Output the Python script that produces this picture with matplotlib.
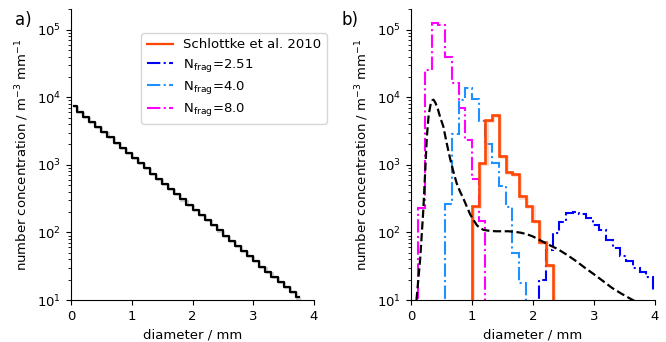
import numpy as np
import matplotlib
matplotlib.use("Agg")
import matplotlib.pyplot as plt
import matplotlib.patheffects as pe
from matplotlib.lines import Line2D

# ---------------- data ----------------
# panel a: initial drop size distribution (bin centres, mm) and concentration
diam_a = [0.05, 0.15, 0.25, 0.35, 0.45, 0.55, 0.65, 0.75, 0.85, 0.95,
          1.05, 1.15, 1.25, 1.35, 1.45, 1.55, 1.65, 1.75, 1.85, 1.95,
          2.05, 2.15, 2.25, 2.35, 2.45, 2.55, 2.65, 2.75, 2.85, 2.95,
          3.05, 3.15, 3.25, 3.35, 3.45, 3.55, 3.65, 3.75]
conc_a = [7324, 6142, 5151, 4320, 3622, 3038, 2548, 2136, 1792, 1502,
          1260, 1057, 886, 743, 623, 523, 438, 368, 308, 258,
          217, 182, 152, 128, 107, 89.9, 75.4, 63.2, 53.0, 44.5,
          37.3, 31.3, 26.2, 22.0, 18.4, 15.5, 13.0, 10.9]

# panel b: bin edges (mm)
edges_b = [0.01, 0.12, 0.23, 0.34, 0.45, 0.56, 0.67, 0.78, 0.89, 1.00,
           1.11, 1.22, 1.33, 1.44, 1.55, 1.66, 1.77, 1.88, 1.99, 2.10,
           2.21, 2.32, 2.43, 2.54, 2.65, 2.76, 2.87, 2.98, 3.09, 3.20,
           3.31, 3.42, 3.53, 3.64, 3.75, 3.86, 3.97, 4.08]

schlottke = [0, 0, 0, 0, 0, 0, 0, 0, 0,
             247, 1067, 4560, 5540, 1350, 790, 730, 340, 247, 150, 73, 33,
             0, 0, 0, 0, 0, 0, 0, 0, 0, 0, 0, 0, 0, 0, 0, 0]
nfrag_251 = [0, 0, 0, 0, 0, 0, 0, 0, 0, 0, 0, 0, 0, 0, 0, 0, 0, 0, 0,
             20, 55, 97, 144, 195, 200, 190, 166, 128, 108, 77, 58, 45,
             37.7, 30, 26, 22, 14]
nfrag_40 = [0, 0, 0, 0, 0, 260, 2830, 9000, 13500, 9500, 4400, 2000, 1050,
            480, 239, 50, 18, 0, 0, 0, 0, 0, 0, 0, 0, 0, 0, 0, 0, 0, 0, 0,
            0, 0, 0, 0, 0]
nfrag_80 = [0, 226, 25600, 126000, 118000, 39300, 16200, 6930, 2360, 627,
            147, 0, 0, 0, 0, 0, 0, 0, 0, 0, 0, 0, 0, 0, 0, 0, 0, 0, 0, 0,
            0, 0, 0, 0, 0, 0, 0]

# panel b: smooth model distribution (dashed)
diam_model = [0.09, 0.15, 0.20, 0.23, 0.26, 0.29, 0.32, 0.35, 0.37, 0.40,
              0.44, 0.48, 0.53, 0.585, 0.64, 0.70, 0.75, 0.80, 0.86, 0.92,
              0.97, 1.03, 1.08, 1.13, 1.19, 1.30, 1.40, 1.50, 1.60, 1.70,
              1.80, 1.90, 2.00, 2.10, 2.20, 2.30, 2.40, 2.55, 2.70, 2.85,
              3.00, 3.15, 3.30, 3.45, 3.60, 3.70]
conc_model = [10, 40, 200, 700, 2600, 5500, 7700, 9000, 9200, 8300,
              6700, 5000, 3700, 2100, 1250, 760, 530, 410, 315, 235,
              185, 150, 128, 116, 109, 105, 104, 104, 104, 102,
              99, 94, 87, 78, 70, 63, 57, 47, 38, 30,
              24, 19, 15, 12.4, 10.4, 9.3]

labels = ["Schlottke et al. 2010", r"N$_{\rm frag}$=2.51",
          r"N$_{\rm frag}$=4.0", r"N$_{\rm frag}$=8.0"]
colors = ["#ff4500", "#0000ff", "#1e90ff", "#ff00ff"]

# ---------------- figure ----------------
plt.rcParams['font.family'] = ['DejaVu Sans']
plt.rcParams['font.size'] = 9.5
fig = plt.figure(figsize=(6.66, 3.42), dpi=100)
ax1 = fig.add_axes([0.1066, 0.1228, 0.3649, 0.8500])
ax2 = fig.add_axes([0.6171, 0.1228, 0.3664, 0.8500])

shadow = [pe.SimpleLineShadow(offset=(0.8, -0.8), shadow_color='gray', alpha=0.35),
          pe.Normal()]

ax1.step(diam_a, conc_a, where='mid', color='black', lw=1.6,
         path_effects=shadow)


def pos(v):
    return np.where(np.asarray(v, float) > 0, v, 1e-3)


ax2.stairs(pos(nfrag_80), edges_b, baseline=None, color=colors[3], lw=1.5,
           ls='-.', label=labels[3])
ax2.stairs(pos(nfrag_40), edges_b, baseline=None, color=colors[2], lw=1.5,
           ls='-.', label=labels[2])
ax2.stairs(pos(nfrag_251), edges_b, baseline=None, color=colors[1], lw=1.5,
           ls='-.', label=labels[1])
ax2.stairs(pos(schlottke), edges_b, baseline=None, color=colors[0], lw=1.9,
           ls='-', label=labels[0],
           path_effects=[pe.SimpleLineShadow(offset=(0.8, -0.8),
                                             shadow_color='#ff9980', alpha=0.4),
                         pe.Normal()])
ax2.plot(diam_model, conc_model, color='black', lw=1.6, ls='--')

for ax in (ax1, ax2):
    ax.set_yscale('log')
    ax.set_ylim(10, 2e5)
    ax.set_xlim(0, 4)
    ax.set_xticks([0, 1, 2, 3, 4])
    ax.set_xlabel('diameter / mm')
    ax.set_ylabel(r'number concentration / m$^{-3}$ mm$^{-1}$')
    ax.spines['top'].set_visible(False)
    ax.spines['right'].set_visible(False)

# legend in panel a with handles for panel b
handles = [Line2D([], [], color=colors[0], lw=1.6, ls='-'),
           Line2D([], [], color=colors[1], lw=1.5, ls='-.'),
           Line2D([], [], color=colors[2], lw=1.5, ls='-.'),
           Line2D([], [], color=colors[3], lw=1.5, ls='-.')]
ax1.legend(handles, labels, loc='upper right', bbox_to_anchor=(1.053, 0.918),
           borderaxespad=0, fontsize=9.5, labelspacing=0.4)

fig.text(0.022, 0.968, 'a)', fontsize=12, va='top', ha='left')
fig.text(0.513, 0.968, 'b)', fontsize=12, va='top', ha='left')

fig.savefig('out.png', dpi=100)
